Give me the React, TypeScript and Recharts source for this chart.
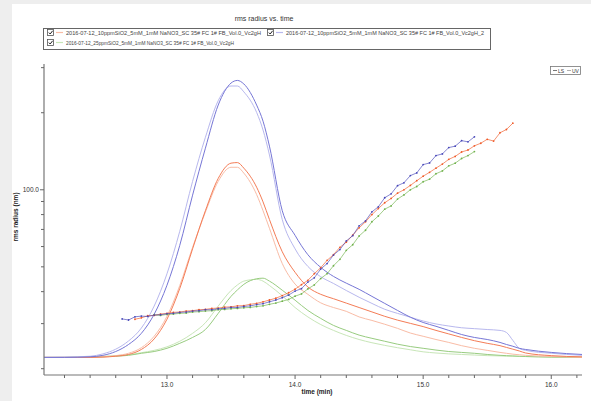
import React from "react";
import { LineChart, Line, XAxis, YAxis } from "recharts";

// ---------- data ----------
const peakTimes = [12.04, 12.2, 12.4, 12.5, 12.6, 12.7, 12.8, 12.9, 13.0, 13.1, 13.2, 13.3, 13.4, 13.5, 13.55, 13.6, 13.7, 13.75, 13.8, 13.9, 14.0, 14.1, 14.2, 14.3, 14.4, 14.5, 14.6, 14.7, 14.8, 14.9, 15.0, 15.1, 15.2, 15.3, 15.4, 15.5, 15.6, 15.65, 15.7, 15.75, 15.8, 16.0, 16.24];

const lsBlue = [0, 0, 0.002, 0.007, 0.02, 0.044, 0.082, 0.147, 0.246, 0.382, 0.553, 0.713, 0.86, 0.935, 0.944, 0.932, 0.86, 0.805, 0.72, 0.5, 0.416, 0.35, 0.307, 0.276, 0.253, 0.232, 0.208, 0.184, 0.16, 0.137, 0.119, 0.106, 0.092, 0.078, 0.068, 0.061, 0.051, 0.044, 0.038, 0.031, 0.027, 0.017, 0.01];
const uvBlue = [0, 0.001, 0.004, 0.012, 0.028, 0.056, 0.1, 0.175, 0.285, 0.43, 0.6, 0.75, 0.875, 0.925, 0.925, 0.905, 0.835, 0.775, 0.69, 0.47, 0.37, 0.31, 0.275, 0.252, 0.228, 0.205, 0.184, 0.164, 0.15, 0.137, 0.124, 0.114, 0.107, 0.101, 0.098, 0.095, 0.092, 0.085, 0.058, 0.031, 0.024, 0.014, 0.007];
const lsOrange = [0, 0, 0, 0.001, 0.004, 0.01, 0.027, 0.063, 0.13, 0.235, 0.37, 0.5, 0.61, 0.662, 0.664, 0.645, 0.58, 0.53, 0.47, 0.36, 0.29, 0.24, 0.215, 0.2, 0.185, 0.17, 0.155, 0.14, 0.127, 0.116, 0.105, 0.092, 0.08, 0.068, 0.057, 0.048, 0.04, 0.034, 0.028, 0.022, 0.015, 0.006, 0.002];
const uvOrange = [0, 0, 0.001, 0.002, 0.006, 0.014, 0.033, 0.072, 0.14, 0.245, 0.375, 0.495, 0.6, 0.648, 0.648, 0.628, 0.555, 0.5, 0.44, 0.32, 0.25, 0.215, 0.186, 0.17, 0.157, 0.138, 0.126, 0.113, 0.099, 0.083, 0.072, 0.061, 0.051, 0.04, 0.031, 0.024, 0.017, 0.014, 0.011, 0.009, 0.007, 0.003, 0];
const lsGreen = [0, 0, 0.001, 0.002, 0.004, 0.007, 0.014, 0.02, 0.031, 0.048, 0.068, 0.095, 0.15, 0.208, 0.23, 0.249, 0.268, 0.27, 0.26, 0.229, 0.195, 0.16, 0.133, 0.109, 0.092, 0.076, 0.065, 0.055, 0.045, 0.037, 0.031, 0.025, 0.02, 0.017, 0.014, 0.01, 0.007, 0.006, 0.005, 0.004, 0.003, 0.001, 0];
const uvGreen = [0, 0, 0.002, 0.004, 0.006, 0.009, 0.016, 0.024, 0.036, 0.055, 0.082, 0.118, 0.175, 0.228, 0.247, 0.26, 0.266, 0.26, 0.245, 0.21, 0.17, 0.138, 0.112, 0.092, 0.075, 0.061, 0.05, 0.041, 0.033, 0.026, 0.019, 0.015, 0.012, 0.01, 0.008, 0.006, 0.005, 0.004, 0.004, 0.003, 0.003, 0.001, 0];

const rmsTimes = [12.65, 12.7, 12.75, 12.8, 12.85, 12.9, 12.95, 13.0, 13.05, 13.1, 13.15, 13.2, 13.25, 13.3, 13.35, 13.4, 13.45, 13.5, 13.55, 13.6, 13.65, 13.7, 13.75, 13.8, 13.85, 13.9, 13.95, 14.0, 14.05, 14.1, 14.15, 14.2, 14.25, 14.3, 14.35, 14.4, 14.45, 14.5, 14.55, 14.6, 14.65, 14.7, 14.75, 14.8, 14.85, 14.9, 14.95, 15.0, 15.05, 15.1, 15.15, 15.2, 15.25, 15.3, 15.35, 15.4, 15.45, 15.5, 15.55, 15.6, 15.65, 15.7];

const rmsBlue = [31.3, 31.0, 31.9, 32.1, 32.0, 32.4, 32.5,
  32.8, 32.9, 33.2, 33.3, 33.6, 33.7, 34.0, 34.0, 34.3, 34.4, 34.7, 34.7, 35.0, 35.2, 35.6, 35.9, 36.5, 37.1, 37.9, 38.8,
  40.2, 41.1, 43.6, 45.3, 49.0, 51.5, 55.6, 58.4, 63.1, 66.2, 72.3, 75.6, 82.0, 85.8, 93.1, 96.4, 103.8, 106.5, 113.6, 116.4,
  125.4, 127.3, 136.0, 138.1, 146.2, 148.0, 155.6, 153.9, 161.0,
  null, null, null, null, null, null];
const rmsOrange = [null, null, 31.2, 31.6, 32.2, 32.3, 32.7,
  32.9, 33.2, 33.3, 33.6, 33.7, 34.0, 34.1, 34.4, 34.5, 34.8, 34.9, 35.2, 35.3, 35.7, 36.0, 36.5, 37.1, 37.7, 38.6, 39.6,
  40.9, 42.6, 44.3, 47.0, 49.6, 53.0, 55.8, 59.6, 62.4, 66.5, 71.0, 75.0, 80.0, 84.5, 89.0, 92.5, 97.0, 100.0, 104.0, 108.5,
  113.0, 117.0, 121.5, 126.0, 131.5, 135.0, 140.5, 143.0, 148.5, 152.0, 157.5, 155.0, 167.0, 172.0, 182.0];
const rmsGreen = [null, null, null, null, null, 32.5, 32.3,
  32.6, 32.7, 32.9, 33.0, 33.3, 33.4, 33.6, 33.7, 34.0, 34.1, 34.3, 34.4, 34.6, 34.7, 35.0, 35.2, 35.7, 36.1, 36.7, 37.3,
  38.4, 39.2, 41.0, 42.5, 45.0, 47.0, 50.5, 53.5, 58.0, 61.0, 66.0, 69.5, 75.0, 79.0, 84.0, 86.5, 92.0, 95.5, 100.0, 103.0,
  107.5, 110.0, 115.5, 118.5, 124.0, 127.0, 132.5, 136.0, 141.0,
  null, null, null, null, null, null];

const xTicks = [12.2, 12.4, 12.6, 12.8, 13.0, 13.2, 13.4, 13.6, 13.8, 14.0, 14.2, 14.4, 14.6, 14.8, 15.0, 15.2, 15.4, 15.6, 15.8, 16.0, 16.2];
const yTicks = [20, 30, 40, 50, 60, 70, 80, 90, 100, 200, 300];
const yLabelled = [100];

const sampleNames = [
  "2016-07-12_10ppmSiO2_5mM_1mM NaNO3_SC 35# FC 1# FB_Vol.0_Vc2gH",
  "2016-07-12_10ppmSiO2_5mM_1mM NaNO3_SC 35# FC 1# FB_Vol.0_Vc2gH_2",
  "2016-07-12_25ppmSiO2_5mM_1mM NaNO3_SC 35# FC 1# FB_Vol.0_Vc2gH",
];
const title = "rms radius vs. time";
const xTitle = "time (min)";
const yTitle = "rms radius (nm)";

// ---------- styling ----------
const C = {
  orangeDot: "#f05a28", orangeLS: "#f47c56", orangeUV: "#f9bca6",
  blueDot: "#4646b8", blueLS: "#7676d6", blueUV: "#b8b8ee",
  greenDot: "#70b24c", greenLS: "#98cc80", greenUV: "#c8e6b8",
};
const FONT = '"Liberation Sans", Arial, sans-serif';

const toRows = (ts: number[], vs: (number | null)[]) => ts.map((t, i) => ({ t, v: vs[i] }));

const XTick = (props: any) => {
  const { x, y, payload } = props;
  const v = payload.value as number;
  const major = Math.abs(v - Math.round(v)) < 1e-6;
  return (
    <g>
      <line x1={x} x2={x} y1={y} y2={y + (major ? 4 : 3)} stroke="#666" strokeWidth={1} />
      {major && (
        <text x={x} y={y + 12} textAnchor="middle" fontSize={6.5} fill="#333" fontFamily={FONT}>
          {v.toFixed(1)}
        </text>
      )}
    </g>
  );
};

const YTick = (props: any) => {
  const { x, y, payload } = props;
  const v = payload.value as number;
  const lab = yLabelled.includes(v);
  return (
    <g>
      <line x1={x - (lab ? 4 : 3)} x2={x} y1={y} y2={y} stroke="#666" strokeWidth={1} />
      {lab && (
        <text x={x - 5} y={y + 2.2} textAnchor="end" fontSize={6.5} fill="#333" fontFamily={FONT}>
          {v.toFixed(1)}
        </text>
      )}
    </g>
  );
};

const CheckBox = ({ x, y }: { x: number; y: number }) => (
  <g>
    <rect x={x + 0.5} y={y + 0.5} width={6} height={6} fill="#fff" stroke="#555" strokeWidth={0.8} />
    <path d={`M${x + 1.8} ${y + 3.6} L${x + 3.2} ${y + 5} L${x + 5.6} ${y + 1.8}`} fill="none" stroke="#222" strokeWidth={1} />
  </g>
);

export default function App() {
  const peakSeries = [
    { key: "uvGreen", vals: uvGreen, color: C.greenUV },
    { key: "lsGreen", vals: lsGreen, color: C.greenLS },
    { key: "uvOrange", vals: uvOrange, color: C.orangeUV },
    { key: "lsOrange", vals: lsOrange, color: C.orangeLS },
    { key: "uvBlue", vals: uvBlue, color: C.blueUV },
    { key: "lsBlue", vals: lsBlue, color: C.blueLS },
  ];
  const rmsSeries = [
    { key: "rmsGreen", vals: rmsGreen, color: C.greenDot },
    { key: "rmsOrange", vals: rmsOrange, color: C.orangeDot },
    { key: "rmsBlue", vals: rmsBlue, color: C.blueDot },
  ];
  const legendItems = [
    { name: sampleNames[0], color: C.orangeUV, x: 47, y: 30, w: 195 },
    { name: sampleNames[1], color: C.blueUV, x: 267, y: 30, w: 198 },
    { name: sampleNames[2], color: C.greenUV, x: 47, y: 40, w: 168 },
  ];

  return (
    <div style={{ position: "fixed", left: 0, top: 0, width: 591, height: 401, background: "#eeeeee", fontFamily: FONT, overflow: "hidden" }}>
      <div style={{ position: "absolute", left: 12, top: 4, width: 579, height: 397, background: "#ffffff" }} />
      <div style={{ position: "absolute", left: 0, top: 0 }}>
        <LineChart width={591} height={401} margin={{ top: 64, right: 9, bottom: 6, left: 14 }}>
          <XAxis xAxisId="b" type="number" dataKey="t" domain={[12.04, 16.24]} ticks={xTicks} interval={0}
            allowDataOverflow tick={<XTick />} tickLine={false} tickSize={0} tickMargin={0} height={20}
            axisLine={{ stroke: "#777", strokeWidth: 1.2 }} />
          <XAxis xAxisId="top" orientation="top" type="number" dataKey="t" domain={[12.04, 16.24]}
            allowDataOverflow tick={false} tickLine={false} height={0}
            axisLine={{ stroke: "#c8c8c8", strokeWidth: 2 }} />
          <YAxis yAxisId="r" type="number" scale="log" domain={[18.9, 310]} ticks={yTicks} interval={0}
            allowDataOverflow tick={<YTick />} tickLine={false} tickSize={0} tickMargin={0} width={30}
            axisLine={{ stroke: "#777", strokeWidth: 1.2 }} />
          <YAxis yAxisId="p" orientation="right" type="number" domain={[-0.06, 1]} allowDataOverflow
            tick={false} tickLine={false} width={0} axisLine={{ stroke: "#c8c8c8", strokeWidth: 2 }} />

          {peakSeries.map((s) => (
            <Line key={s.key} data={toRows(peakTimes, s.vals)} dataKey="v" xAxisId="top" yAxisId="p"
              type="monotone" stroke={s.color} strokeWidth={1} dot={false} isAnimationActive={false} />
          ))}
          {rmsSeries.map((s) => (
            <Line key={s.key} data={toRows(rmsTimes, s.vals)} dataKey="v" xAxisId="b" yAxisId="r"
              type="linear" stroke={s.color} strokeWidth={1} strokeOpacity={0.65}
              dot={{ r: 0.9, fill: s.color, stroke: "none" }} isAnimationActive={false} />
          ))}
        </LineChart>
      </div>
      <svg width={591} height={401} style={{ position: "absolute", left: 0, top: 0, pointerEvents: "none" }}>
        <text x={264} y={21} textAnchor="middle" fontSize={7} fill="#333" fontFamily={FONT}>{title}</text>
        <rect x={43.5} y={28.5} width={447} height={21} fill="#fff" stroke="#666" strokeWidth={1} />
        {legendItems.map((it) => (
          <g key={it.name}>
            <CheckBox x={it.x} y={it.y - 1} />
            <line x1={it.x + 9} x2={it.x + 16} y1={it.y + 2.5} y2={it.y + 2.5} stroke={it.color} strokeWidth={1.2} />
            <text x={it.x + 19} y={it.y + 4.6} fontSize={5.6} fill="#444" fontFamily={FONT}
              textLength={it.w} lengthAdjust="spacingAndGlyphs">{it.name}</text>
          </g>
        ))}
        <rect x={550.5} y={66.5} width={30} height={8} fill="#fff" stroke="#777" strokeWidth={0.8} />
        <line x1={553} x2={557} y1={70.5} y2={70.5} stroke="#555" strokeWidth={0.8} />
        <text x={558} y={72.6} fontSize={5} fill="#333" fontFamily={FONT}>LS</text>
        <line x1={567} x2={571} y1={70.5} y2={70.5} stroke="#999" strokeWidth={0.8} />
        <text x={572} y={72.6} fontSize={5} fill="#333" fontFamily={FONT}>UV</text>
        <text x={317} y={394} textAnchor="middle" fontSize={6.5} fontWeight="bold" fill="#222" fontFamily={FONT}>{xTitle}</text>
        <text x={18} y={217} textAnchor="middle" fontSize={6.5} fontWeight="bold" fill="#222" fontFamily={FONT}
          transform="rotate(-90 18 217)">{yTitle}</text>
      </svg>
    </div>
  );
}
